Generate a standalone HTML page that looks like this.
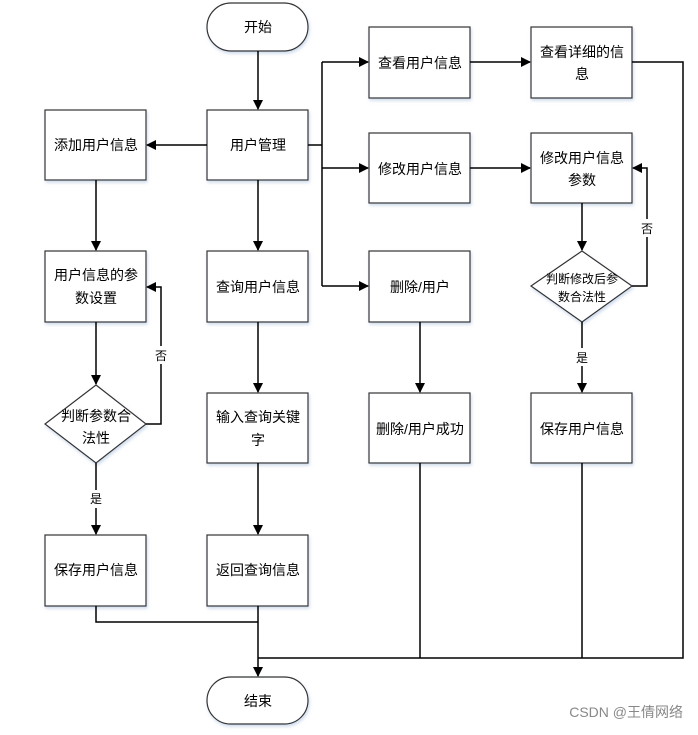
<!DOCTYPE html>
<html><head><meta charset="utf-8"><style>
body{margin:0;background:#fff;}
svg text{font-family:"Liberation Sans","Noto Sans CJK SC",sans-serif;font-size:14px;fill:#000;}
</style></head><body>
<svg width="698" height="730" viewBox="0 0 698 730" xmlns="http://www.w3.org/2000/svg">
<defs>
<marker id="a" markerWidth="10" markerHeight="10" refX="9" refY="5" orient="auto" markerUnits="userSpaceOnUse"><path d="M0,0 L10,5 L0,10 z" fill="#000"/></marker>
<filter id="s" x="-10%" y="-10%" width="130%" height="130%"><feDropShadow dx="1" dy="2" stdDeviation="1.5" flood-color="#9bb5d8" flood-opacity="0.5"/></filter>
</defs>
<g fill="#fff" stroke="#333" stroke-width="1.2" filter="url(#s)">
<rect x="207" y="3" width="101" height="48" rx="24"/>
<rect x="207" y="677" width="101" height="47" rx="23.5"/>
<rect x="45" y="110" width="101" height="70"/>
<rect x="207" y="110" width="101" height="70"/>
<rect x="45" y="251" width="101" height="71"/>
<rect x="207" y="251" width="101" height="71"/>
<rect x="207" y="393" width="101" height="70"/>
<rect x="45" y="535" width="101" height="71"/>
<rect x="207" y="535" width="101" height="71"/>
<rect x="369" y="27" width="101" height="71"/>
<rect x="531" y="27" width="101" height="71"/>
<rect x="369" y="133" width="101" height="70"/>
<rect x="531" y="133" width="101" height="70"/>
<rect x="369" y="251" width="101" height="71"/>
<rect x="369" y="393" width="101" height="70"/>
<rect x="531" y="393" width="101" height="70"/>
<polygon points="96,385 146,424 96,463 45,424"/>
<polygon points="582,251 632,286 582,322 531,286"/>
</g>
<g stroke="#000" stroke-width="1.5" fill="none">
<line x1="258" y1="51" x2="258" y2="109" marker-end="url(#a)"/>
<line x1="207" y1="145" x2="147" y2="145" marker-end="url(#a)"/>
<line x1="96" y1="180" x2="96" y2="250" marker-end="url(#a)"/>
<line x1="258" y1="180" x2="258" y2="250" marker-end="url(#a)"/>
<line x1="96" y1="322" x2="96" y2="384" marker-end="url(#a)"/>
<line x1="258" y1="322" x2="258" y2="392" marker-end="url(#a)"/>
<line x1="258" y1="463" x2="258" y2="534" marker-end="url(#a)"/>
<line x1="96" y1="463" x2="96" y2="490"/>
<line x1="96" y1="508" x2="96" y2="534" marker-end="url(#a)"/>
<polyline points="146,424 161,424 161,287 147,287" marker-end="url(#a)"/>
<polyline points="308,145 322,145"/>
<polyline points="322,62 322,286"/>
<line x1="322" y1="62" x2="368" y2="62" marker-end="url(#a)"/>
<line x1="322" y1="168" x2="368" y2="168" marker-end="url(#a)"/>
<line x1="322" y1="286" x2="368" y2="286" marker-end="url(#a)"/>
<line x1="470" y1="62" x2="530" y2="62" marker-end="url(#a)"/>
<line x1="470" y1="168" x2="530" y2="168" marker-end="url(#a)"/>
<line x1="420" y1="322" x2="420" y2="392" marker-end="url(#a)"/>
<line x1="582" y1="203" x2="582" y2="250" marker-end="url(#a)"/>
<polyline points="632,286 647,286 647,168 633,168" marker-end="url(#a)"/>
<line x1="582" y1="322" x2="582" y2="348"/>
<line x1="582" y1="366" x2="582" y2="392" marker-end="url(#a)"/>
<polyline points="632,62 683,62 683,658 258,658"/>
<polyline points="96,606 96,622 258,622"/>
<line x1="258" y1="606" x2="258" y2="676" marker-end="url(#a)"/>
<line x1="420" y1="463" x2="420" y2="658"/>
<line x1="582" y1="463" x2="582" y2="658"/>
</g>
<rect x="153" y="346" width="16" height="18" fill="#fff"/>
<rect x="639" y="219" width="16" height="18" fill="#fff"/>
<g text-anchor="middle">
<text x="258" y="32">开始</text>
<text x="258" y="706">结束</text>
<text x="96" y="150">添加用户信息</text>
<text x="258" y="150">用户管理</text>
<text x="96" y="280">用户信息的参</text>
<text x="96" y="303">数设置</text>
<text x="258" y="292">查询用户信息</text>
<text x="258" y="422">输入查询关键</text>
<text x="258" y="445">字</text>
<text x="96" y="575">保存用户信息</text>
<text x="258" y="575">返回查询信息</text>
<text x="420" y="68">查看用户信息</text>
<text x="582" y="57">查看详细的信</text>
<text x="582" y="79">息</text>
<text x="420" y="174">修改用户信息</text>
<text x="582" y="163">修改用户信息</text>
<text x="582" y="185">参数</text>
<text x="420" y="292">删除/用户</text>
<text x="420" y="434">删除/用户成功</text>
<text x="582" y="434">保存用户信息</text>
<text x="96" y="421">判断参数合</text>
<text x="96" y="443">法性</text>
<text x="582" y="283" style="font-size:12px">判断修改后参</text>
<text x="582" y="301" style="font-size:12px">数合法性</text>
<text x="161" y="360" style="font-size:12px">否</text>
<text x="96" y="503" style="font-size:12px">是</text>
<text x="647" y="233" style="font-size:12px">否</text>
<text x="582" y="362" style="font-size:12px">是</text>
</g>
<text x="683" y="717" text-anchor="end" style="font-size:14px;fill:#888">CSDN @王倩网络</text>
</svg>
</body></html>
